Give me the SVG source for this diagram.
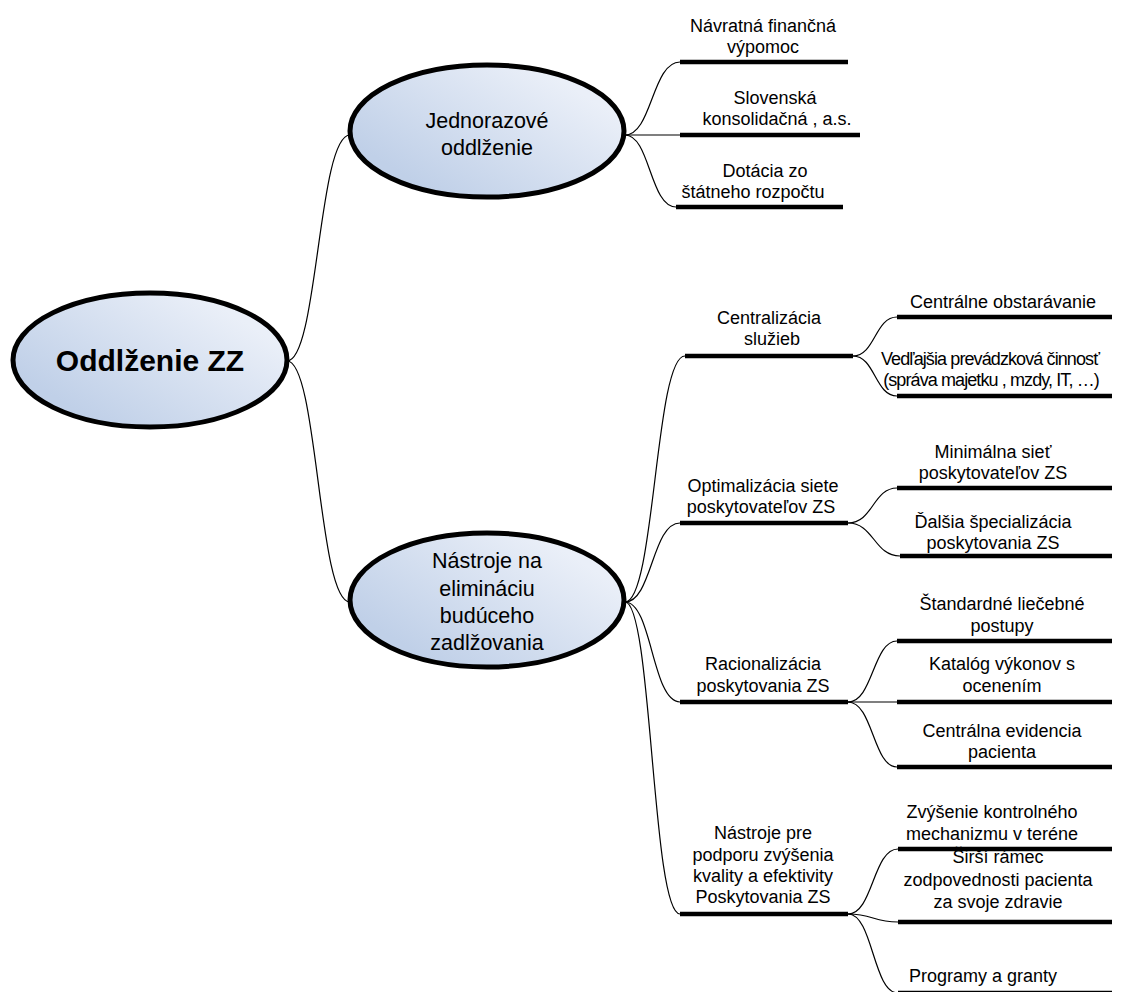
<svg xmlns="http://www.w3.org/2000/svg" width="1136" height="992" viewBox="0 0 1136 992">
<defs>
<linearGradient id="eg" x1="0.25" y1="0.9" x2="0.95" y2="0.35">
<stop offset="0" stop-color="#c0d0e8"/>
<stop offset="1" stop-color="#eaeff8"/>
</linearGradient>
<style>
.ell{fill:url(#eg);stroke:#000;stroke-width:5}
.c{fill:none;stroke:#000;stroke-width:1.2}
.u{stroke:#000;stroke-width:4.5;stroke-linecap:butt}
text{font-family:"Liberation Sans",Arial,sans-serif;fill:#000;text-anchor:middle}
.t{font-size:18px}
.n{letter-spacing:-0.9px}
.e{font-size:21.5px}
.r{font-size:30px;font-weight:bold}
</style>
</defs>
<rect width="1136" height="992" fill="#fff"/>
<g id="connectors">
<path class="c" d="M287,361 C318,361 318,135 350,135"/>
<path class="c" d="M287,361 C318,361 318,602 350,602"/>
<path class="c" d="M625,135 C652,135 652,62 680,62"/>
<path class="c" d="M625,135 L680,135"/>
<path class="c" d="M625,135 C650,135 650,207 676,207"/>
<path class="c" d="M625,602 C655,602 655,356 685,356"/>
<path class="c" d="M625,602 C652,602 652,523 680,523"/>
<path class="c" d="M625,602 C652,602 652,702 680,702"/>
<path class="c" d="M625,602 C652,602 652,914 680,914"/>
<path class="c" d="M853,356 C875,356 875,317 897,317"/>
<path class="c" d="M853,356 C875,356 875,396 897,396"/>
<path class="c" d="M848,523 C873,523 873,488 897,488"/>
<path class="c" d="M848,523 C874,523 874,556 900,556"/>
<path class="c" d="M848,702 C873,702 873,641 897,641"/>
<path class="c" d="M848,702 L897,702"/>
<path class="c" d="M848,702 C873,702 873,767 897,767"/>
<path class="c" d="M848,914 C873,914 873,849 898,849"/>
<path class="c" d="M848,914 C873,914 873,922 898,922"/>
<path class="c" d="M848,914 C873,914 873,993 898,993"/>
</g>
<g id="root">
<ellipse class="ell" cx="150" cy="360" rx="137" ry="67"/>
<text class="r" x="150" y="371">Oddlženie ZZ</text>
</g>
<g id="jednorazove">
<ellipse class="ell" cx="487" cy="131" rx="137" ry="66"/>
<text class="e" x="487" y="128">Jednorazové</text>
<text class="e" x="487" y="155">oddlženie</text>
</g>
<g id="nastroje">
<ellipse class="ell" cx="487" cy="600" rx="137" ry="67"/>
<text class="e" x="487" y="568">Nástroje na</text>
<text class="e" x="487" y="596">elimináciu</text>
<text class="e" x="487" y="623">budúceho</text>
<text class="e" x="487" y="650">zadlžovania</text>
</g>
<g id="navratna">
<line class="u" x1="680" y1="62" x2="848" y2="62"/>
<text class="t" x="763" y="32">Návratná finančná</text>
<text class="t" x="763" y="53">výpomoc</text>
</g>
<g id="slovenska">
<line class="u" x1="680" y1="135" x2="860" y2="135"/>
<text class="t" x="775" y="104">Slovenská</text>
<text class="t" x="777" y="125">konsolidačná , a.s.</text>
</g>
<g id="dotacia">
<line class="u" x1="676" y1="207" x2="843" y2="207"/>
<text class="t" x="765" y="177">Dotácia zo</text>
<text class="t" x="753" y="198">štátneho rozpočtu</text>
</g>
<g id="centralizacia">
<line class="u" x1="685" y1="356" x2="853" y2="356"/>
<text class="t" x="769" y="324">Centralizácia</text>
<text class="t" x="772" y="345">služieb</text>
</g>
<g id="centralne-obstaravanie">
<line class="u" x1="897" y1="317" x2="1112" y2="317"/>
<text class="t" x="1003" y="308">Centrálne obstarávanie</text>
</g>
<g id="vedlajsia">
<line class="u" x1="897" y1="396" x2="1112" y2="396"/>
<text class="t n" x="990" y="365">Vedľajšia prevádzková činnosť</text>
<text class="t n" x="991" y="386">(správa majetku , mzdy, IT, …)</text>
</g>
<g id="optimalizacia">
<line class="u" x1="680" y1="523" x2="848" y2="523"/>
<text class="t" x="763" y="492">Optimalizácia siete</text>
<text class="t" x="761" y="513">poskytovateľov ZS</text>
</g>
<g id="minimalna">
<line class="u" x1="897" y1="488" x2="1112" y2="488"/>
<text class="t" x="993" y="458">Minimálna sieť</text>
<text class="t" x="993" y="479">poskytovateľov ZS</text>
</g>
<g id="dalsia">
<line class="u" x1="900" y1="556" x2="1112" y2="556"/>
<text class="t" x="993" y="528">Ďalšia špecializácia</text>
<text class="t" x="993" y="549">poskytovania ZS</text>
</g>
<g id="racionalizacia">
<line class="u" x1="680" y1="702" x2="848" y2="702"/>
<text class="t" x="763" y="670">Racionalizácia</text>
<text class="t" x="763" y="692">poskytovania ZS</text>
</g>
<g id="standardne">
<line class="u" x1="897" y1="641" x2="1112" y2="641"/>
<text class="t" x="1002" y="610">Štandardné liečebné</text>
<text class="t" x="1002" y="632">postupy</text>
</g>
<g id="katalog">
<line class="u" x1="897" y1="702" x2="1112" y2="702"/>
<text class="t" x="1002" y="670">Katalóg výkonov s</text>
<text class="t" x="1002" y="692">ocenením</text>
</g>
<g id="centralna-evidencia">
<line class="u" x1="897" y1="767" x2="1112" y2="767"/>
<text class="t" x="1002" y="737">Centrálna evidencia</text>
<text class="t" x="1002" y="758">pacienta</text>
</g>
<g id="nastroje-pre">
<line class="u" x1="680" y1="914" x2="848" y2="914"/>
<text class="t" x="763" y="839">Nástroje pre</text>
<text class="t" x="763" y="861">podporu zvýšenia</text>
<text class="t" x="763" y="882">kvality a efektivity</text>
<text class="t" x="763" y="903">Poskytovania ZS</text>
</g>
<g id="zvysenie">
<line class="u" x1="898" y1="849" x2="1112" y2="849"/>
<text class="t" x="992" y="818">Zvýšenie kontrolného</text>
<text class="t" x="992" y="840">mechanizmu v teréne</text>
</g>
<g id="sirsi">
<line class="u" x1="898" y1="922" x2="1112" y2="922"/>
<text class="t" x="998" y="863">Širší rámec</text>
<text class="t" x="998" y="886">zodpovednosti pacienta</text>
<text class="t" x="998" y="908">za svoje zdravie</text>
</g>
<g id="programy">
<line class="u" x1="898" y1="993" x2="1112" y2="993"/>
<text class="t" x="983" y="982">Programy a granty</text>
</g>
</svg>
